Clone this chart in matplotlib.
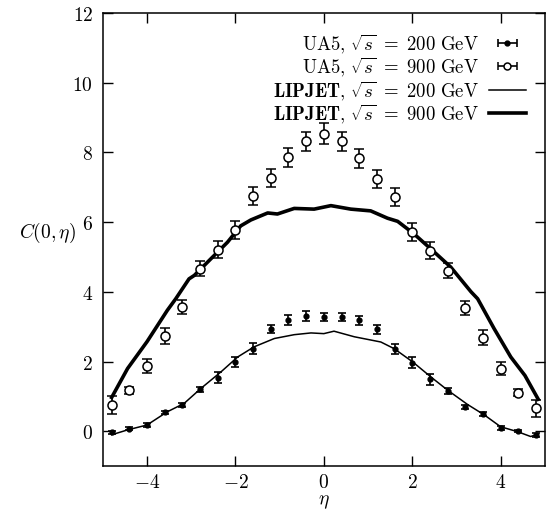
import matplotlib
matplotlib.use("Agg")
import matplotlib.pyplot as plt

plt.rcParams['mathtext.fontset'] = 'cm'
plt.rcParams['font.family'] = 'serif'
plt.rcParams['font.serif'] = ['DejaVu Serif']

# UA5 data points
eta = [-4.8, -4.4, -4.0, -3.6, -3.2, -2.8, -2.4, -2.0, -1.6, -1.2, -0.8, -0.4, 0.0,
       0.4, 0.8, 1.2, 1.6, 2.0, 2.4, 2.8, 3.2, 3.6, 4.0, 4.4, 4.8]
c900 = [0.75, 1.18, 1.88, 2.73, 3.56, 4.66, 5.21, 5.77, 6.75, 7.26, 7.86, 8.32, 8.53,
        8.32, 7.83, 7.23, 6.72, 5.71, 5.18, 4.61, 3.53, 2.68, 1.80, 1.10, 0.66]
e900 = [0.25, 0.1, 0.2, 0.22, 0.2, 0.22, 0.25, 0.25, 0.25, 0.25, 0.27, 0.27, 0.3,
        0.27, 0.27, 0.25, 0.25, 0.25, 0.25, 0.22, 0.2, 0.22, 0.2, 0.1, 0.25]
c200 = [-0.03, 0.07, 0.18, 0.54, 0.75, 1.2, 1.54, 1.99, 2.37, 2.94, 3.2, 3.3, 3.28,
        3.28, 3.18, 2.92, 2.37, 1.97, 1.49, 1.15, 0.7, 0.49, 0.1, 0.01, -0.1]
e200 = [0.05, 0.04, 0.05, 0.05, 0.06, 0.08, 0.15, 0.15, 0.15, 0.12, 0.14, 0.14, 0.12,
        0.12, 0.12, 0.12, 0.14, 0.15, 0.15, 0.08, 0.06, 0.05, 0.05, 0.04, 0.05]

# LIPJET curves
lip900_x = [-4.8, -4.44, -4.0, -3.54, -3.35, -3.05, -2.93, -2.56, -2.18, -1.88, -1.65,
            -1.27, -1.05, -0.67, -0.22, 0.16, 0.61, 1.06, 1.44, 1.67, 2.04, 2.42,
            2.87, 3.33, 3.48, 3.85, 4.23, 4.55, 4.85]
lip900_y = [0.97, 1.8, 2.57, 3.47, 3.8, 4.37, 4.47, 4.94, 5.42, 5.89, 6.06,
            6.26, 6.23, 6.39, 6.37, 6.47, 6.37, 6.32, 6.11, 6.02, 5.66, 5.23,
            4.71, 4.0, 3.8, 2.95, 2.13, 1.6, 0.92]
lip200_x = [-4.8, -4.44, -4.0, -3.54, -3.16, -2.78, -2.33, -1.95, -1.58, -1.12, -0.67,
            -0.29, 0.0, 0.23, 0.69, 1.29, 1.59, 2.01, 2.42, 2.8, 3.25, 3.63, 4.0,
            4.38, 4.68, 4.85]
lip200_y = [-0.1, 0.04, 0.18, 0.56, 0.8, 1.23, 1.7, 2.13, 2.42, 2.66, 2.77,
            2.82, 2.8, 2.87, 2.71, 2.56, 2.37, 1.99, 1.56, 1.18, 0.77, 0.47, 0.13,
            -0.01, -0.15, -0.08]

xticks = [-4, -2, 0, 2, 4]
yticks = [0, 2, 4, 6, 8, 10, 12]

labels = [r'$\mathrm{UA5{,}}\ \sqrt{s}\ =\ 200\ \mathrm{GeV}$',
          r'$\mathrm{UA5{,}}\ \sqrt{s}\ =\ 900\ \mathrm{GeV}$',
          r'$\mathbf{LIPJET}{,}\ \sqrt{s}\ =\ 200\ \mathrm{GeV}$',
          r'$\mathbf{LIPJET}{,}\ \sqrt{s}\ =\ 900\ \mathrm{GeV}$']

fig = plt.figure(figsize=(5.47, 5.10), dpi=100)
ax = fig.add_axes([0.188, 0.084, 0.808, 0.889])

ax.errorbar(eta, c200, yerr=e200, fmt='o', color='black', ms=3.5, capsize=3,
            elinewidth=1.2, capthick=1.2)
ax.errorbar(eta, c900, yerr=e900, fmt='o', color='black', mfc='white', ms=6.5,
            mew=1.1, capsize=3.5, elinewidth=1.2, capthick=1.2)
l200, = ax.plot(lip200_x, lip200_y, color='black', lw=1.1)
l900, = ax.plot(lip900_x, lip900_y, color='black', lw=2.6)

# legend proxies with horizontal error bars, drawn outside the view
p200 = ax.errorbar([-99], [-99], xerr=[1], fmt='o', color='black', ms=3.5,
                   capsize=3, elinewidth=1.2, capthick=1.2)
p900 = ax.errorbar([-99], [-99], xerr=[1], fmt='o', color='black', mfc='white',
                   ms=5, mew=1.1, capsize=3, elinewidth=1.2, capthick=1.2)

ax.set_xlim(-5, 5)
ax.set_ylim(-1, 12)
ax.set_xticks(xticks, [r'$%d$' % t for t in xticks])
ax.set_yticks(yticks, [r'$%d$' % t for t in yticks])
ax.tick_params(direction='in', top=True, right=True, length=7, width=1,
               labelsize=14)
ax.tick_params(axis='x', pad=5)
ax.tick_params(axis='y', pad=7)
for sp in ax.spines.values():
    sp.set_linewidth(1.1)

ax.set_xlabel(r'$\eta$', fontsize=14, labelpad=1)
ax.set_ylabel(r'$C(0,\eta)$', fontsize=14, rotation=0)
ax.yaxis.set_label_coords(-0.125, 0.49)

leg = ax.legend([p200, p900, l200, l900], labels, loc='upper right',
                frameon=False, markerfirst=False, fontsize=13.5,
                handlelength=2.0, labelspacing=0.02, borderaxespad=0.6,
                handletextpad=0.5)
leg._legend_box.align = 'right'

fig.savefig('out.png', dpi=100)
